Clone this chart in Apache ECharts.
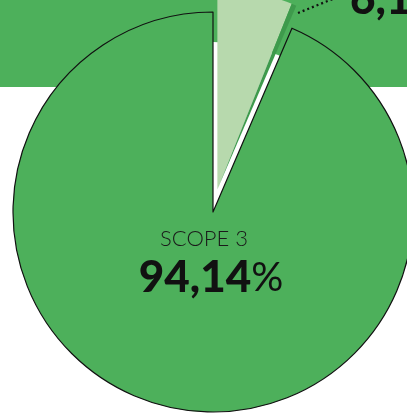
<!DOCTYPE html>
<html><head><meta charset="utf-8">
<script src="https://cdn.jsdelivr.net/npm/echarts@6/dist/echarts.min.js"></script>
<style>html,body{margin:0;padding:0;background:#fff;overflow:hidden}#c{width:407px;height:413px}</style>
</head><body><div id="c"></div>
<script>
const categories = ['SCOPE 2', 'SCOPE 1', 'SCOPE 3'];
const values = [6.1, 0.4, 94.14];
const valueLabels = ['6,1', '0,4', '94,14'];
const colors = ['#B7D9AD', '#3E9A4C', '#4DB05B'];

const chart = echarts.init(document.getElementById('c'), null, {renderer: 'canvas'});
const C = [213, 212], R = 200, OFFSET = 23;
const total = values.reduce((a, b) => a + b, 0);
const half = (values[0] / total) * Math.PI; // bisector angle of exploded slice from vertical
const C2 = [C[0] + OFFSET * Math.sin(half), C[1] - OFFSET * Math.cos(half)];
const clear = 'rgba(0,0,0,0)';
const FONT = 'Lato, "Noto Sans", sans-serif';

const base = {
  type: 'pie', startAngle: 90, clockwise: true, animation: false, silent: true,
  label: {show: false}, labelLine: {show: false}, emphasis: {disabled: true}, avoidLabelOverlap: false
};

chart.setOption({
  animation: false,
  graphic: [
    {type: 'rect', z: 0, shape: {x: 0, y: 0, width: 407, height: 87}, style: {fill: '#4DB05B'}},
    {type: 'polyline', z: 100, shape: {points: [[298, 13], [340, -4]]},
      style: {stroke: '#111', lineWidth: 2.2, lineDash: [2, 3], fill: null}},
    {type: 'text', z: 100, x: 350, y: 22, style: {text: valueLabels[0] + '%', font: '900 44px ' + FONT,
      fill: '#111', align: 'left', verticalAlign: 'bottom'}},
    {type: 'text', z: 100, x: 204, y: 239, style: {text: categories[2], font: '300 22px ' + FONT,
      fill: '#1a1a1a', align: 'center', verticalAlign: 'middle'}},
    {type: 'text', z: 100, x: 211, y: 278, style: {
      text: '{b|' + valueLabels[2] + '}{p|%}', align: 'center', verticalAlign: 'middle',
      rich: {b: {font: '900 44px ' + FONT, fill: '#111'}, p: {font: '400 40px ' + FONT, fill: '#111'}}}}
  ],
  series: [
    Object.assign({}, base, {name: 'bg', z: 1, center: C, radius: 170,
      data: [{value: 1, itemStyle: {color: '#ffffff', borderWidth: 0}}]}),
    Object.assign({}, base, {name: 'main', z: 2, center: C, radius: R,
      data: values.map((v, i) => ({name: categories[i], value: v,
        itemStyle: i === 2 ? {color: colors[2], borderColor: '#111', borderWidth: 1.2}
                           : {color: clear, borderWidth: 0}}))}),
    Object.assign({}, base, {name: 'exploded', z: 3, center: C2, radius: R,
      data: values.map((v, i) => ({name: categories[i], value: v,
        itemStyle: i === 2 ? {color: clear, borderWidth: 0}
                           : {color: colors[i], borderWidth: 0}}))})
  ]
});
</script></body></html>
